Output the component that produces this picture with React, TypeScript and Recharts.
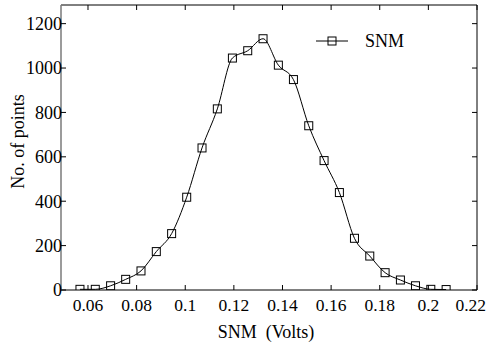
import React from 'react';
import { LineChart, Line, XAxis, YAxis, Legend, Label } from 'recharts';

const snmVolts = [
  0.0567, 0.063, 0.0693, 0.0755, 0.0818, 0.0881, 0.0944, 0.1006, 0.1069,
  0.1132, 0.1194, 0.1257, 0.132, 0.1383, 0.1445, 0.1508, 0.1571, 0.1634,
  0.1696, 0.1759, 0.1822, 0.1885, 0.1947, 0.201, 0.2073,
];
const pointCounts = [
  3, 3, 19, 48, 86, 173, 254, 418, 640, 816, 1045, 1078, 1132, 1013, 948,
  740, 583, 439, 233, 153, 78, 45, 19, 3, 2,
];
const xTicks = [0.06, 0.08, 0.1, 0.12, 0.14, 0.16, 0.18, 0.2, 0.22];
const yTicks = [0, 200, 400, 600, 800, 1000, 1200];
const seriesName = 'SNM';
const xTitle = 'SNM\u00A0 (Volts)';
const yTitle = 'No. of points';

const data = snmVolts.map((v, i) => ({ snm: v, count: pointCounts[i] }));

const FONT = '"Liberation Serif", "Times New Roman", Times, serif';
const X_DOMAIN: [number, number] = [0.0489, 0.22];
const Y_DOMAIN: [number, number] = [0, 1284];
const CHART_W = 487;

const SquareDot = (props: any) => {
  const { cx, cy, index } = props;
  if (cx == null || cy == null) return null;
  return (
    <rect
      key={`sq-${index}`}
      x={cx - 4}
      y={cy - 4}
      width={8}
      height={8}
      fill="none"
      stroke="#000"
      strokeWidth={1}
    />
  );
};

const LegendContent = () => (
  <svg width={110} height={26} style={{ display: 'block' }}>
    <line x1={6} y1={13} x2={38} y2={13} stroke="#000" strokeWidth={1} />
    <rect x={18} y={9} width={8} height={8} fill="none" stroke="#000" strokeWidth={1} />
    <text x={55} y={13} dominantBaseline="central" fontSize={18} fontFamily={FONT} fill="#000">
      {seriesName}
    </text>
  </svg>
);

const XTick = (props: any) => {
  const { x, y, payload } = props;
  const label = String(payload.value);
  const isLast = payload.value === xTicks[xTicks.length - 1];
  return (
    <text
      x={isLast ? CHART_W - 1 : x}
      y={y}
      dy="0.71em"
      textAnchor={isLast ? 'end' : 'middle'}
      fontSize={17.5}
      fontFamily={FONT}
      fill="#000"
    >
      {label}
    </text>
  );
};

const YTitle = (props: any) => {
  const vb = props.viewBox || { x: 0, y: 0, width: 0, height: 0 };
  const cx = vb.x + 18;
  const cy = vb.y + vb.height / 2 - 6;
  return (
    <text
      x={cx}
      y={cy}
      transform={`rotate(-90 ${cx} ${cy})`}
      textAnchor="middle"
      dominantBaseline="central"
      fontSize={18}
      fontFamily={FONT}
      fill="#000"
    >
      {yTitle}
    </text>
  );
};

const XTitle = (props: any) => {
  const vb = props.viewBox || { x: 0, y: 0, width: 0, height: 0 };
  const cx = vb.x + vb.width / 2 - 3;
  const cy = vb.y + 48;
  return (
    <text
      x={cx}
      y={cy}
      textAnchor="middle"
      fontSize={18}
      fontFamily={FONT}
      fill="#000"
      style={{ whiteSpace: 'pre' }}
    >
      {xTitle}
    </text>
  );
};

const tickStyle = { fill: '#000', fontSize: 18, fontFamily: FONT };
const blank = () => '';

export default function App() {
  return (
    <div style={{ position: 'absolute', left: 0, top: 0, width: 487, height: 350, background: '#fff', fontFamily: FONT }}>
      <LineChart
        width={CHART_W}
        height={350}
        data={data}
        margin={{ top: 4, right: 9, bottom: 0, left: 0 }}
      >
        <XAxis
          xAxisId="b"
          dataKey="snm"
          type="number"
          orientation="bottom"
          domain={X_DOMAIN}
          allowDataOverflow
          ticks={xTicks}
          interval={0}
          height={60}
          tickSize={-5}
          tickMargin={14}
          axisLine={{ stroke: '#000', strokeWidth: 1 }}
          tickLine={{ stroke: '#000' }}
          tick={XTick}
        >
          <Label content={XTitle} />
        </XAxis>
        <XAxis
          xAxisId="t"
          dataKey="snm"
          type="number"
          orientation="top"
          domain={X_DOMAIN}
          allowDataOverflow
          ticks={xTicks}
          interval={0}
          height={1}
          tickSize={-5}
          axisLine={{ stroke: '#000', strokeWidth: 1 }}
          tickLine={{ stroke: '#000' }}
          tickFormatter={blank}
        />
        <YAxis
          yAxisId="l"
          dataKey="count"
          type="number"
          orientation="left"
          domain={Y_DOMAIN}
          allowDataOverflow
          ticks={yTicks}
          interval={0}
          width={61}
          tickSize={-5}
          tickMargin={4}
          axisLine={{ stroke: '#7a7a7a', strokeWidth: 1.5 }}
          tickLine={{ stroke: '#000' }}
          tick={tickStyle}
        >
          <Label content={YTitle} />
        </YAxis>
        <YAxis
          yAxisId="r"
          dataKey="count"
          type="number"
          orientation="right"
          domain={Y_DOMAIN}
          allowDataOverflow
          ticks={yTicks}
          interval={0}
          width={1}
          tickSize={-5}
          axisLine={{ stroke: '#000', strokeWidth: 1 }}
          tickLine={{ stroke: '#000' }}
          tickFormatter={blank}
        />
        <Legend
          layout="horizontal"
          verticalAlign="middle"
          align="center"
          content={LegendContent}
          wrapperStyle={{ position: 'absolute', left: 310, top: 28, width: 110, height: 26 }}
        />
        <Line
          xAxisId="t"
          yAxisId="r"
          dataKey="count"
          legendType="none"
          stroke="none"
          dot={false}
          activeDot={false}
          isAnimationActive={false}
        />
        <Line
          xAxisId="b"
          yAxisId="l"
          name={seriesName}
          dataKey="count"
          type="monotone"
          stroke="#000"
          strokeWidth={1}
          dot={SquareDot}
          activeDot={false}
          isAnimationActive={false}
        />
      </LineChart>
    </div>
  );
}
